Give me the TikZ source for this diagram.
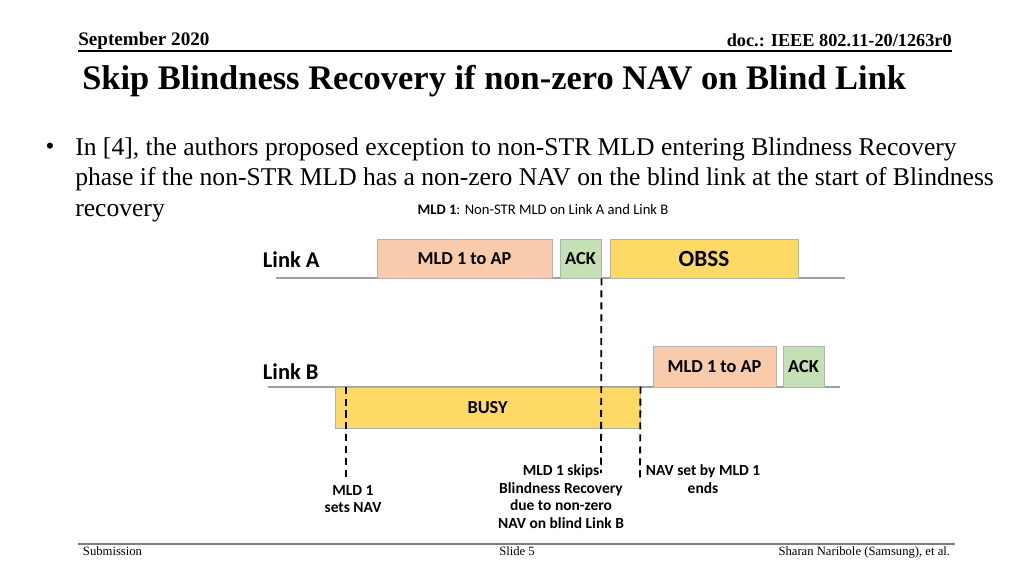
\documentclass[tikz,border=0pt]{standalone}
\usepackage{fontspec}
\setmainfont{Liberation Serif}
\newfontfamily\calibri{Carlito}
\usetikzlibrary{positioning}
\definecolor{peach}{HTML}{F8CBAD}
\definecolor{mint}{HTML}{C5E0B4}
\definecolor{gold}{HTML}{FFD966}
\tikzset{
  frame/.style={draw=gray!60, line width=0.6pt, inner sep=0pt,
    font=\calibri\bfseries\fontsize{13}{15}\selectfont},
  linkname/.style={font=\calibri\bfseries\fontsize{16}{19}\selectfont, anchor=west},
  note/.style={font=\calibri\bfseries\fontsize{11}{12.5}\selectfont, align=center, anchor=north},
  marker/.style={line width=1.3pt, dash pattern=on 5pt off 3.5pt},
  timeline/.style={draw=gray!75, line width=0.8pt}
}

\begin{document}
\begin{tikzpicture}[x=0.025cm, y=-0.025cm]
    \useasboundingbox[fill=white] (0,0) rectangle (1024,576);

    % slide header
    \node[anchor=base west, inner sep=0pt, font=\bfseries\fontsize{13.6}{15}\selectfont] (month) at (78,46) {September 2020};
    \node[anchor=base east, inner sep=0pt, font=\bfseries\fontsize{13}{15}\selectfont] (docid) at (952,47) {doc.: IEEE 802.11-20/1263r0};
    \coordinate (hl) at (78,51);
    \coordinate (hr) at (952,51);
    \draw[line width=0.8pt] (hl) -- (hr);
    \node[anchor=base west, inner sep=0pt, font=\bfseries\fontsize{24.5}{28}\selectfont] (title) at (82,90)
        {Skip Blindness Recovery if non-zero NAV on Blind Link};

    % bullet
    \node[anchor=base, font=\fontsize{18}{22}\selectfont] (dot) at (50,155) {\textbullet};
    \node[anchor=north west, align=left, inner sep=0pt, font=\fontsize{18.2}{22}\selectfont] (intro) at (75,137)
        {In [4], the authors proposed exception to non-STR MLD entering Blindness Recovery\\
         phase if the non-STR MLD has a non-zero NAV on the blind link at the start of Blindness\\
         recovery};

    \node[font=\calibri\fontsize{10.4}{12}\selectfont] (caption) at (543,209)
        {\textbf{MLD 1}: Non-STR MLD on Link A and Link B};

    % link A
    \node[linkname] (linka) at (258,260) {Link A};
    \coordinate (la0) at (276,278);
    \coordinate (la1) at (845,278);
    \draw[timeline] (la0) -- (la1);
    \node[frame, fill=peach, minimum width=4.375cm, minimum height=0.975cm] (txa) at (464.5,258.5) {MLD 1 to AP};
    \node[frame, fill=mint, minimum width=1.025cm, minimum height=0.975cm] (acka) at (580.5,258.5) {ACK};
    \node[frame, fill=gold, minimum width=4.7cm, minimum height=0.975cm,
          font=\calibri\bfseries\fontsize{16.5}{18}\selectfont] (obss) at (704,258.5) {OBSS};

    % link B
    \node[linkname] (linkb) at (258,372) {Link B};
    \coordinate (lb0) at (268,387);
    \coordinate (lb1) at (840,387);
    \draw[timeline] (lb0) -- (lb1);
    \node[frame, fill=gold, minimum width=7.625cm, minimum height=1.025cm] (busy) at (487.5,407.5) {BUSY};
    \node[frame, fill=peach, minimum width=3.075cm, minimum height=1.025cm] (txb) at (714.5,366.5) {MLD 1 to AP};
    \node[frame, fill=mint, minimum width=1.025cm, minimum height=1.025cm] (ackb) at (803.5,366.5) {ACK};

    % time markers
    \coordinate (navset) at (346,478);
    \coordinate (skip) at (601,473);
    \coordinate (navend) at (640,478);
    \draw[marker] (navset |- busy.north) -- (navset);
    \draw[marker] (acka.south east) -- (skip);
    \draw[marker] (busy.north east) -- (navend);

    \node[note] (setlbl) at (353,480) {MLD 1\\sets NAV};
    \node[note] (skiplbl) at (561,460) {MLD 1 skips\\Blindness Recovery\\due to non-zero\\NAV on blind Link B};
    \node[note] (endlbl) at (703,460) {NAV set by MLD 1\\ends};

    % slide footer
    \coordinate (fl) at (78,544);
    \coordinate (fr) at (955,544);
    \draw[gray, line width=1.4pt] (fl) -- (fr);
    \node[anchor=base west, font=\fontsize{9}{11}\selectfont] (sub) at (78,555) {Submission};
    \node[anchor=base, font=\fontsize{9}{11}\selectfont] (slide) at (517,555) {Slide 5};
    \node[anchor=base east, font=\fontsize{9}{11}\selectfont] (author) at (955,555) {Sharan Naribole (Samsung), et al.};
\end{tikzpicture}
\end{document}
